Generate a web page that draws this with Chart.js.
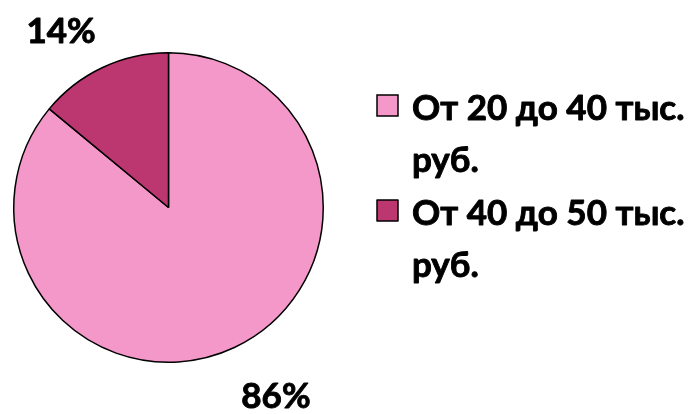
<!DOCTYPE html>
<html>
<head>
<meta charset="utf-8">
<script src="https://cdn.jsdelivr.net/npm/chart.js@4.4.1/dist/chart.umd.min.js"></script>
<style>
  html, body { margin: 0; padding: 0; background: #fff; }
  #wrap { width: 698px; height: 414px; }
</style>
</head>
<body>
<div id="wrap"><canvas id="pie" width="698" height="414"></canvas></div>
<script>
// income groups and their shares, %
const categories = ['От 20 до 40 тыс. руб.', 'От 40 до 50 тыс. руб.'];
const shares = [86, 14];
const sliceColors = ['#F398C8', '#BC3670'];

const FONT = 'bold 35px Lato, "Open Sans", sans-serif';

// bold text with a hairline stroke to make it heavier
function heavyText(ctx, txt, x, y) {
  ctx.fillText(txt, x, y);
  ctx.lineWidth = 0.9;
  ctx.strokeStyle = ctx.fillStyle;
  ctx.lineJoin = 'round';
  ctx.strokeText(txt, x, y);
}

// wrap a label onto several lines so it fits maxW
function wrapText(ctx, text, maxW) {
  const words = text.split(' ');
  const lines = [];
  let cur = '';
  words.forEach(w => {
    const test = cur ? cur + ' ' + w : w;
    if (cur && ctx.measureText(test).width > maxW) {
      lines.push(cur);
      cur = w;
    } else {
      cur = test;
    }
  });
  if (cur) lines.push(cur);
  return lines;
}

// percent labels outside the slices
const sliceLabels = {
  id: 'sliceLabels',
  afterDatasetsDraw(chart) {
    const ctx = chart.ctx;
    const meta = chart.getDatasetMeta(0);
    ctx.save();
    ctx.font = FONT;
    ctx.fillStyle = '#000';
    ctx.textAlign = 'center';
    ctx.textBaseline = 'middle';
    meta.data.forEach((arc, i) => {
      const mid = (arc.startAngle + arc.endAngle) / 2 - 5.25 * Math.PI / 180;
      const r = arc.outerRadius * 1.37;
      const x = arc.x + Math.cos(mid) * r;
      const y = arc.y + Math.sin(mid) * r + 6.5;
      heavyText(ctx, shares[i] + '%', x, y);
    });
    ctx.restore();
  }
};

// legend on the right, boxes with wrapped text
const sideLegend = {
  id: 'sideLegend',
  afterDraw(chart) {
    const ctx = chart.ctx;
    const boxX = 377, boxSize = 21, textX = 412;
    const lineH = 52.5;
    let top = 95;
    ctx.save();
    ctx.font = FONT;
    ctx.textBaseline = 'alphabetic';
    ctx.textAlign = 'left';
    categories.forEach((cat, i) => {
      ctx.fillStyle = sliceColors[i];
      ctx.fillRect(boxX, top, boxSize, boxSize);
      ctx.lineWidth = 1.5;
      ctx.strokeStyle = '#000';
      ctx.strokeRect(boxX, top, boxSize, boxSize);
      const lines = wrapText(ctx, cat, chart.width - textX - 5);
      ctx.fillStyle = '#000';
      lines.forEach((ln, k) => {
        heavyText(ctx, ln, textX, top + 24.5 + k * lineH);
      });
      top += lines.length * lineH;
    });
    ctx.restore();
  }
};

new Chart(document.getElementById('pie'), {
  type: 'pie',
  data: {
    labels: categories,
    datasets: [{
      data: shares,
      backgroundColor: sliceColors,
      borderColor: '#000',
      borderWidth: 1.5
    }]
  },
  options: {
    responsive: false,
    animation: false,
    layout: { padding: { left: 13, top: 52, right: 374, bottom: 51 } },
    plugins: {
      legend: { display: false },
      tooltip: { enabled: false }
    }
  },
  plugins: [sliceLabels, sideLegend]
});
</script>
</body>
</html>
